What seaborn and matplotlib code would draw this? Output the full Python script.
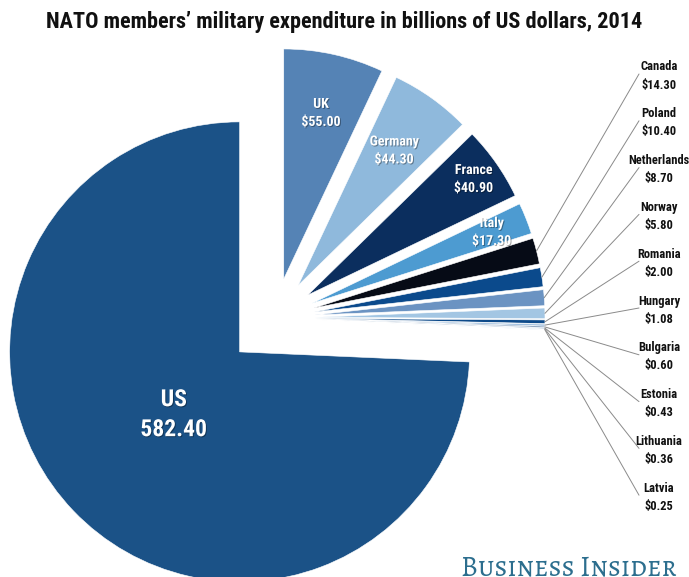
import numpy as np
import matplotlib.pyplot as plt
import matplotlib.patheffects as pe
import seaborn as sns

# NATO military spending 2014, billions of US dollars
countries = ["UK", "Germany", "France", "Italy", "Canada", "Poland", "Netherlands",
             "Norway", "Romania", "Hungary", "Bulgaria", "Estonia", "Lithuania",
             "Latvia", "US"]
spending = [55.00, 44.30, 40.90, 17.30, 14.30, 10.40, 8.70,
            5.80, 2.00, 1.08, 0.60, 0.43, 0.36,
            0.25, 582.40]
colors = ["#5583b5", "#8fb9dc", "#0b2e5e", "#4d9bd1", "#060b16", "#0b4a8c", "#6b93c2",
          "#a3c6e3", "#0d4a8a", "#a0c0e0", "#1a4a80", "#8ab0d8", "#2a5a90",
          "#b0cde8", "#1b5287"]

sns.set_theme(style="white")
plt.rcParams['font.family'] = ['Roboto Condensed', 'DejaVu Sans']

W, H = 689, 577
fig = plt.figure(figsize=(W / 100, H / 100), dpi=100)
ax = fig.add_axes([0, 0, 1, 1])

R = 230
explode = [40] * 14 + [49]
wedges, _ = ax.pie(spending, colors=colors, startangle=90, counterclock=False,
                   radius=R, center=(275, H - 318), explode=explode,
                   wedgeprops=dict(linewidth=0.4, edgecolor="white"))
ax.set_xlim(0, W)
ax.set_ylim(0, H)
ax.set_aspect("equal")
ax.axis("off")


def point(w, frac):
    mid = np.deg2rad((w.theta1 + w.theta2) / 2)
    cx, cy = w.center
    return cx + frac * R * np.cos(mid), cy + frac * R * np.sin(mid)


shadow = [pe.withSimplePatchShadow(offset=(0.7, -0.7), shadow_rgbFace="black", alpha=0.35)]

# labels inside the big wedges
inside = {0: 0.74, 1: 0.72, 2: 0.88, 3: 0.84}
for i, frac in inside.items():
    x, y = point(wedges[i], frac)
    ax.text(x, y + 9, countries[i], color="white", ha="center", va="center",
            fontsize=10, fontweight="bold", path_effects=shadow)
    ax.text(x, y - 9, f"${spending[i]:.2f}", color="white", ha="center", va="center",
            fontsize=10, fontweight="bold", path_effects=shadow)

x, y = point(wedges[14], 0.42)
ax.text(x + 4, y + 19, countries[14], color="white", ha="center", va="center",
        fontsize=17, fontweight="bold", path_effects=shadow)
ax.text(x + 4, y - 11, f"{spending[14]:.2f}", color="white", ha="center", va="center",
        fontsize=17, fontweight="bold", path_effects=shadow)

# small countries: labels in a column with leader lines
small = list(range(4, 14))
label_y = H - (67 + np.arange(len(small)) * 46.8)
for k, i in enumerate(small):
    ty = label_y[k]
    ax.text(659, ty, countries[i], ha="center", va="center", fontsize=9,
            fontweight="bold", color="#111111")
    ax.text(659, ty - 18, f"${spending[i]:.2f}", ha="center", va="center",
            fontsize=9, fontweight="bold", color="#111111")
    x0, y0 = point(wedges[i], 1.0)
    ax.plot([x0, 639], [y0, ty - 7], color="#8a8a8a", lw=0.7)

fig.text(0.5, 1 - 22 / H, "NATO members\u2019 military expenditure in billions of US dollars, 2014",
         ha="center", va="center", fontsize=16, fontweight="bold", color="#111111")
fig.text(677 / W, 2 / H, "Business Insider", ha="right", va="baseline",
         fontsize=20.5, color="#2c6e8e", family=["Alegreya SC", "DejaVu Serif"])

fig.savefig("out.png", dpi=100)
